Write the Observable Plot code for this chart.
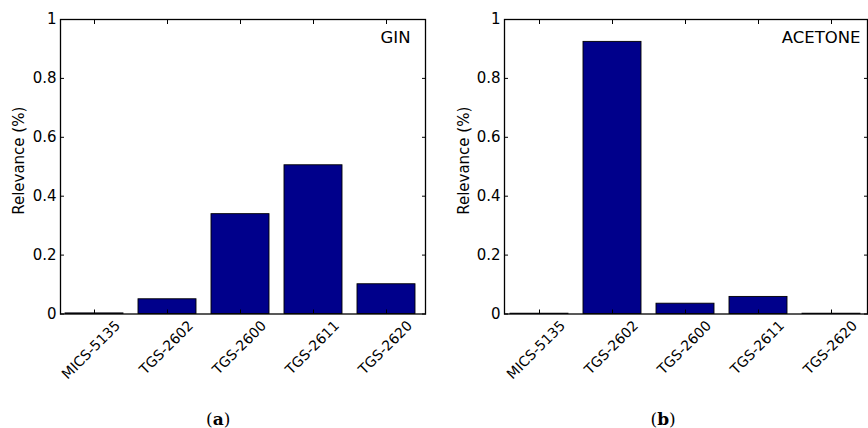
<!DOCTYPE html>
<html>
<head>
<meta charset="utf-8">
<script src="https://cdn.jsdelivr.net/npm/d3@7"></script>
<script src="https://cdn.jsdelivr.net/npm/@observablehq/plot@0.6"></script>
<style>
  html, body { margin: 0; padding: 0; background: #fff; }
  #wrap { position: relative; width: 868px; height: 428px; overflow: hidden; font-family: "DejaVu Sans", sans-serif; }
  .panel { position: absolute; top: 0; }
  .panel text { font-family: "DejaVu Sans", sans-serif; }
  .cap { position: absolute; top: 409px; font-family: "DejaVu Serif", serif; font-size: 17px; line-height: 20px; color: #000; }
  .cap b { font-weight: bold; }
</style>
</head>
<body>
<div id="wrap"></div>
<script>
const sensors = ["MICS-5135", "TGS-2602", "TGS-2600", "TGS-2611", "TGS-2620"];
const ginValues = [0.002, 0.050, 0.339, 0.505, 0.101];
const acetoneValues = [0.001, 0.924, 0.035, 0.058, 0.001];
const yTicks = [0, 0.2, 0.4, 0.6, 0.8, 1];
const yTickLabels = ["0", "0.2", "0.4", "0.6", "0.8", "1"];
const yLabel = "Relevance (%)";
const panelTitles = ["GIN", "ACETONE"];
const captionLetters = ["a", "b"];

const wrap = document.getElementById("wrap");
const FONT = "DejaVu Sans";

function panel(values, title, cfg) {
  const data = sensors.map((s, i) => ({sensor: s, value: values[i]}));
  const yt = yTicks.map((v, i) => ({v, label: yTickLabels[i]}));
  return Plot.plot({
    width: 434,
    height: 428,
    marginLeft: cfg.marginLeft,
    marginRight: cfg.marginRight,
    marginTop: 19,
    marginBottom: 114.5,
    style: {fontFamily: "'DejaVu Sans', sans-serif", fontSize: "15px", color: "#000", background: "transparent"},
    x: {type: "band", domain: sensors, range: cfg.xRange, paddingInner: 0.2, paddingOuter: 0.1, axis: null},
    y: {domain: [0, 1], axis: null},
    marks: [
      Plot.barY(data, {x: "sensor", y: "value", fill: "#00008b", stroke: "#000", strokeWidth: 0.9}),
      Plot.frame({stroke: "#000", strokeWidth: 1.3}),
      // inward ticks on all four sides
      Plot.axisY({anchor: "left", ticks: yTicks, tickSize: 4, insetLeft: 4, text: null, label: null, stroke: "#000"}),
      Plot.axisY({anchor: "right", ticks: yTicks, tickSize: 4, insetRight: 4, text: null, label: null, stroke: "#000"}),
      Plot.axisX({anchor: "top", ticks: sensors, tickSize: 4, insetTop: 4, text: null, label: null, stroke: "#000"}),
      Plot.axisX({anchor: "bottom", ticks: sensors, tickSize: 4, insetBottom: 4, text: null, label: null, stroke: "#000"}),
      // y tick labels
      Plot.text(yt, {y: "v", text: "label", frameAnchor: "left", textAnchor: "end", dx: -4,
        fontSize: 15, fontFamily: FONT, fill: "#000"}),
      // x tick labels, rotated
      Plot.text(sensors, {x: d => d, frameAnchor: "bottom", text: d => d, rotate: -45,
        textAnchor: "end", lineAnchor: "top", dx: 19.5, dy: 5.5, fontSize: 14, fontFamily: FONT, fill: "#000"}),
      // y label
      Plot.text([yLabel], {frameAnchor: "left", text: d => d, rotate: -90, textAnchor: "middle", dx: cfg.labelDx, dy: -6,
        fontSize: 15, fontFamily: FONT, fill: "#000"}),
      // panel title
      Plot.text([title], {frameAnchor: "top-right", text: d => d, textAnchor: "end", lineAnchor: "top",
        dx: cfg.titleDx, dy: 11.5, fontSize: 16.5, fontFamily: FONT, fill: "#000"})
    ]
  });
}

const p1 = panel(ginValues, panelTitles[0], {marginLeft: 60, marginRight: 9, xRange: [56, 424.7], labelDx: -41, titleDx: -15});
p1.classList.add("panel"); p1.style.left = "0px";
wrap.appendChild(p1);

const p2 = panel(acetoneValues, panelTitles[1], {marginLeft: 70, marginRight: 1, xRange: [66.7, 434.7], labelDx: -40, titleDx: -7});
p2.classList.add("panel"); p2.style.left = "434px";
wrap.appendChild(p2);

const centers = [218, 663];
captionLetters.forEach((c, i) => {
  const d = document.createElement("div");
  d.className = "cap";
  d.innerHTML = "(<b>" + c + "</b>)";
  wrap.appendChild(d);
  d.style.left = (centers[i] - d.offsetWidth / 2) + "px";
});
</script>
</body>
</html>
